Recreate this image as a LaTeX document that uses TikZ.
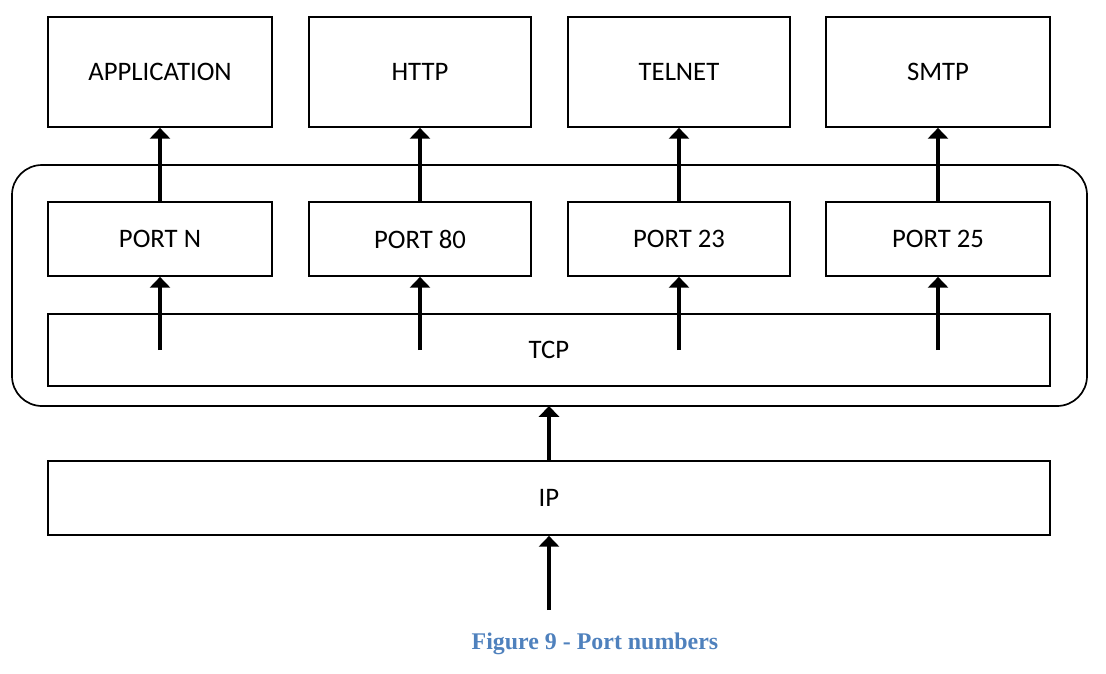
\documentclass[tikz,border=0pt]{standalone}
\usepackage{fontspec}
\setmainfont{Carlito}
\newfontfamily\capfont{Liberation Serif}
\usetikzlibrary{arrows.meta,positioning}
\definecolor{capblue}{RGB}{79,129,189}
\tikzstyle{layerbox}=[rectangle, draw, line width=1.2pt, align=center, font=\fontsize{19}{22}\selectfont]
\tikzstyle{uparrow}=[-{Triangle[width=0.5cm,length=0.27cm]}, line width=2.4pt]

\begin{document}
\begin{tikzpicture}[x=0.025cm, y=-0.025cm]
\useasboundingbox (0,0) rectangle (1106,673);

\node[layerbox, minimum width=5.6cm, minimum height=2.75cm] (app) at (160,72) {APPLICATION};
\node[layerbox, minimum width=5.55cm, minimum height=2.75cm] (http) at (420,72) {HTTP};
\node[layerbox, minimum width=5.55cm, minimum height=2.75cm] (telnet) at (679,72) {TELNET};
\node[layerbox, minimum width=5.6cm, minimum height=2.75cm] (smtp) at (938,72) {SMTP};

\node[layerbox, minimum width=5.6cm, minimum height=1.85cm] (pN) at (160,239) {PORT N};
\node[layerbox, minimum width=5.55cm, minimum height=1.85cm] (p80) at (420,239) {PORT 80};
\node[layerbox, minimum width=5.55cm, minimum height=1.85cm] (p23) at (679,239) {PORT 23};
\node[layerbox, minimum width=5.6cm, minimum height=1.85cm] (p25) at (938,239) {PORT 25};

\node[layerbox, minimum width=25.05cm, minimum height=1.8cm] (tcp) at (549,350) {TCP};
\node[layerbox, minimum width=25.05cm, minimum height=1.85cm] (ip) at (549,498) {IP};

\draw[line width=1.2pt, rounded corners=0.75cm] (12,165) rectangle (1087,406);

\coordinate (in) at (549,610);

\draw[uparrow] (pN.north) -- (app.south);
\draw[uparrow] (p80.north) -- (http.south);
\draw[uparrow] (p23.north) -- (telnet.south);
\draw[uparrow] (p25.north) -- (smtp.south);
\draw[uparrow] (pN |- tcp) -- (pN.south);
\draw[uparrow] (p80 |- tcp) -- (p80.south);
\draw[uparrow] (p23 |- tcp) -- (p23.south);
\draw[uparrow] (p25 |- tcp) -- (p25.south);
\draw[uparrow] (ip.north) -- (0,406 -| ip.north);
\draw[uparrow] (in) -- (ip.south);

\node[font=\capfont\bfseries\fontsize{17}{20}\selectfont, text=capblue] (caption) at (595,644) {Figure 9 - Port numbers};
\end{tikzpicture}
\end{document}
